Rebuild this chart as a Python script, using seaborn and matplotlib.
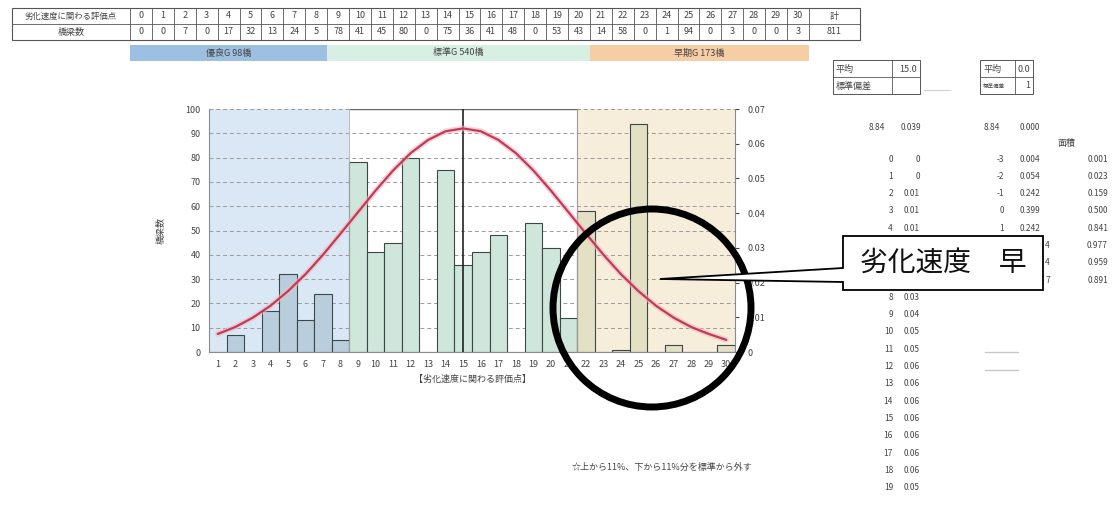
import numpy as np
import pandas as pd
import matplotlib
matplotlib.use("Agg")
import matplotlib.pyplot as plt
from matplotlib.patches import Rectangle, Ellipse, Polygon
import seaborn as sns

# ------------------------------------------------------------
# データ
# ------------------------------------------------------------
scores = list(range(0, 31))
counts = [0, 0, 7, 0, 17, 32, 13, 24, 5, 78, 41, 45, 80, 0, 75, 36,
          41, 48, 0, 53, 43, 14, 58, 0, 1, 94, 0, 3, 0, 0, 3]
total = 811

# グラフ背景・棒の区分 (1-8 / 9-21 / 22-30)
chart_groups = ["blue"] * 9 + ["green"] * 13 + ["tan"] * 9

# 表の下の区分ラベル
band_labels = ["優良G 98橋", "標準G 540橋", "早期G 173橋"]
band_cols = [(0, 8), (9, 20), (21, 30)]

# 正規分布曲線 (右軸) x=1..30
curve_x = list(range(1, 31))
curve_y = [0.0052, 0.0072, 0.0099, 0.0133, 0.0175, 0.0224, 0.0280, 0.0341,
           0.0403, 0.0465, 0.0523, 0.0573, 0.0611, 0.0636, 0.0644, 0.0636,
           0.0611, 0.0573, 0.0523, 0.0465, 0.0403, 0.0341, 0.0280, 0.0224,
           0.0175, 0.0133, 0.0099, 0.0072, 0.0052, 0.0035]

# 右側の計算表 (吹き出しで隠れている行は None)
pdf_rows = ["0", "0", "0.01", "0.01", "0.01", None, None, None, "0.03",
            "0.04", "0.05", "0.05", "0.06", "0.06", "0.06", "0.06", "0.06",
            "0.06", "0.06", "0.05"]
z_rows = [-3, -2, -1, 0, 1, None, None, None]
z_pdf = ["0.004", "0.054", "0.242", "0.399", "0.242", None, None, None]
z_tail = [None, None, None, None, None, "4", "4", "7"]
z_cdf = ["0.001", "0.023", "0.159", "0.500", "0.841", "0.977", "0.959", "0.891"]

# ------------------------------------------------------------
# スタイル
# ------------------------------------------------------------
sns.set_style("white")
plt.rcParams['font.family'] = ['Noto Sans CJK JP', 'DejaVu Sans']
plt.rcParams['axes.unicode_minus'] = False

W, H = 1116, 508
fig = plt.figure(figsize=(W / 100, H / 100), dpi=100)
fig.patch.set_facecolor("white")

TXT = "#444444"


def fx(x):
    return x / W


def fy(y):
    return 1 - y / H


def ftext(x, y, s, **kw):
    kw.setdefault("color", TXT)
    kw.setdefault("fontsize", 6.5)
    kw.setdefault("va", "center")
    fig.text(fx(x), fy(y), s, **kw)


def frect(x0, y0, x1, y1, **kw):
    fig.add_artist(Rectangle((fx(x0), fy(y1)), fx(x1) - fx(x0), fy(y0) - fy(y1),
                             transform=fig.transFigure, **kw))


def fline(xs, ys, **kw):
    fig.add_artist(plt.Line2D([fx(v) for v in xs], [fy(v) for v in ys],
                              transform=fig.transFigure, **kw))


# ------------------------------------------------------------
# 上部の表
# ------------------------------------------------------------
tx0, tcol, ty0, ty1, ty2 = 130, 21.9, 8, 24, 40
tx_end = tx0 + 31 * tcol
frect(12, ty0, 860, ty2, facecolor="white", edgecolor="#555555", lw=0.8)
fline([12, 860], [ty1, ty1], color="#555555", lw=0.6)
for k in range(32):
    xx = tx0 + k * tcol
    fline([xx, xx], [ty0, ty2], color="#555555", lw=0.6)
ftext(71, 16, "劣化速度に関わる評価点", ha="center", fontsize=6)
ftext(71, 32, "橋梁数", ha="center", fontsize=6.5)
for s, c in zip(scores, counts):
    xc = tx0 + (s + 0.5) * tcol
    ftext(xc, 16, str(s), ha="center")
    ftext(xc, 32, str(c), ha="center")
ftext((tx_end + 860) / 2, 16, "計", ha="center")
ftext((tx_end + 860) / 2, 32, str(total), ha="center")

band_colors = ["#9dc0e2", "#d7f0e3", "#f7cda6"]
for (a, b), lab, col in zip(band_cols, band_labels, band_colors):
    x0 = tx0 + a * tcol
    x1 = tx0 + (b + 1) * tcol
    frect(x0, 45, x1, 61, facecolor=col, edgecolor="none")
    ftext((x0 + x1) / 2, 53, lab, ha="center", fontsize=6.5)

# ------------------------------------------------------------
# メイングラフ
# ------------------------------------------------------------
ax = fig.add_axes([fx(209), fy(352), fx(735) - fx(209), fy(109) - fy(352)])
ax.set_facecolor("white")

ax.axvspan(0.5, 8.5, color="#d9e8f4", zorder=0, lw=0)
ax.axvspan(21.5, 30.5, color="#f6eddb", zorder=0, lw=0)

df = pd.DataFrame({"score": scores[1:], "count": counts[1:], "grp": chart_groups[1:]})
bar_pal = {"blue": "#b3cfe2", "green": "#cbeadb", "tan": "#e9e4bf"}
sns.barplot(data=df, x="score", y="count", hue="grp", palette=bar_pal,
            native_scale=True, dodge=False, width=1.0, edgecolor="#3c4848",
            linewidth=0.8, legend=False, ax=ax, zorder=2)

ax.set_xlim(0.5, 30.5)
ax.set_ylim(0, 100)
ax.set_yticks(range(0, 101, 10))
ax.set_xticks(range(1, 31))
ax.tick_params(labelsize=6.5, colors=TXT, length=0, pad=6)
ax.set_axisbelow(True)
ax.yaxis.grid(True, linestyle=(0, (4, 3)), color="#9a9a9a", lw=0.7)
ax.xaxis.grid(False)
ax.set_xlabel("【劣化速度に関わる評価点】", fontsize=6.5, color=TXT, labelpad=4)
ax.set_ylabel("橋梁数", fontsize=6.5, color=TXT, labelpad=14)
for sp in ["left", "bottom"]:
    ax.spines[sp].set_color("#8a8a8a")
    ax.spines[sp].set_linewidth(0.8)
ax.spines["top"].set_visible(False)
ax.spines["right"].set_visible(False)

# 標準Gの枠と平均線
ax.hlines(100, 8.5, 21.5, color="#666666", lw=1.0, zorder=3)
ax.vlines(21.5, 0, 100, color="#9a9a9a", lw=0.8, zorder=3)
ax.vlines(8.5, 0, 100, color="#b0b0b0", lw=0.6, zorder=3)
ax.vlines(15, 0, 100, color="#222222", lw=1.2, zorder=4)

ax2 = ax.twinx()
sns.lineplot(x=curve_x, y=curve_y, ax=ax2, color="#f2b8c4", lw=4, alpha=0.6)
sns.lineplot(x=curve_x, y=curve_y, ax=ax2, color="#c03c55", lw=1.6)
ax2.set_ylim(0, 0.07)
ax2.set_yticks([0, 0.01, 0.02, 0.03, 0.04, 0.05, 0.06, 0.07])
ax2.set_yticklabels(["0", "0.01", "0.02", "0.03", "0.04", "0.05", "0.06", "0.07"])
ax2.tick_params(labelsize=6.5, colors=TXT, length=3, pad=6)
ax2.spines["right"].set_color("#8a8a8a")
ax2.spines["right"].set_linewidth(0.8)
for sp in ["top", "left", "bottom"]:
    ax2.spines[sp].set_visible(False)
ax2.grid(False)

# ------------------------------------------------------------
# 右側の表・数値
# ------------------------------------------------------------
for x0, x1, xd in [(833, 920, 892), (980, 1033, 1015)]:
    frect(x0, 60, x1, 94, facecolor="white", edgecolor="#555555", lw=0.7)
    fline([x0, x1], [77, 77], color="#555555", lw=0.6)
    fline([xd, xd], [60, 94], color="#555555", lw=0.6)
ftext(836, 69, "平均", fontsize=6.5)
ftext(917, 69, "15.0", ha="right", fontsize=6.5)
ftext(836, 86, "標準偏差", fontsize=6.5)
ftext(983, 69, "平均", fontsize=6.5)
ftext(1030, 69, "0.0", ha="right", fontsize=6.5)
ftext(983, 86, "標準偏差", fontsize=4)
ftext(1030, 86, "1", ha="right", fontsize=6.5)
fline([924, 950], [90, 90], color="#d0d0d0", lw=0.8)

ftext(885, 127, "8.84", ha="right", fontsize=6)
ftext(921, 127, "0.039", ha="right", fontsize=6)
ftext(1000, 127, "8.84", ha="right", fontsize=6)
ftext(1040, 127, "0.000", ha="right", fontsize=6)
ftext(1066, 143, "面積", ha="center", fontsize=6.5)

for i, v in enumerate(pdf_rows):
    if v is None:
        continue
    yy = 159 + i * 17.3
    ftext(893, yy, str(i), ha="right", fontsize=6)
    ftext(920, yy, v, ha="right", fontsize=6)
for i, (z, p, t, c) in enumerate(zip(z_rows, z_pdf, z_tail, z_cdf)):
    yy = 159 + i * 17.3
    if z is not None:
        ftext(1004, yy, str(z), ha="right", fontsize=6)
        ftext(1040, yy, p, ha="right", fontsize=6)
    if t is not None:
        ftext(1050, yy, t, ha="right", fontsize=6)
    ftext(1108, yy, c, ha="right", fontsize=6)

for yy in [352, 370]:
    fline([985, 1018], [yy, yy], color="#c8c8c8", lw=1)

ftext(662, 467, "☆上から11%、下から11%分を標準から外す", ha="center", fontsize=6.5)

# ------------------------------------------------------------
# 注釈 (丸・吹き出し)
# ------------------------------------------------------------
fig.add_artist(Ellipse((fx(652), fy(308)), fx(198), 198 / H,
                       transform=fig.transFigure, fill=False,
                       edgecolor="black", lw=5, zorder=10))
call = [(843, 236), (1043, 236), (1043, 290), (843, 290), (843, 282),
        (660, 279), (843, 268)]
fig.add_artist(Polygon([(fx(a), fy(b)) for a, b in call], closed=True,
                       transform=fig.transFigure, facecolor="white",
                       edgecolor="black", lw=1.3, zorder=11))
fig.text(fx(943), fy(263), "劣化速度　早", fontsize=20, color="#111111",
         ha="center", va="center", zorder=12)

fig.savefig("out.png", dpi=100)
